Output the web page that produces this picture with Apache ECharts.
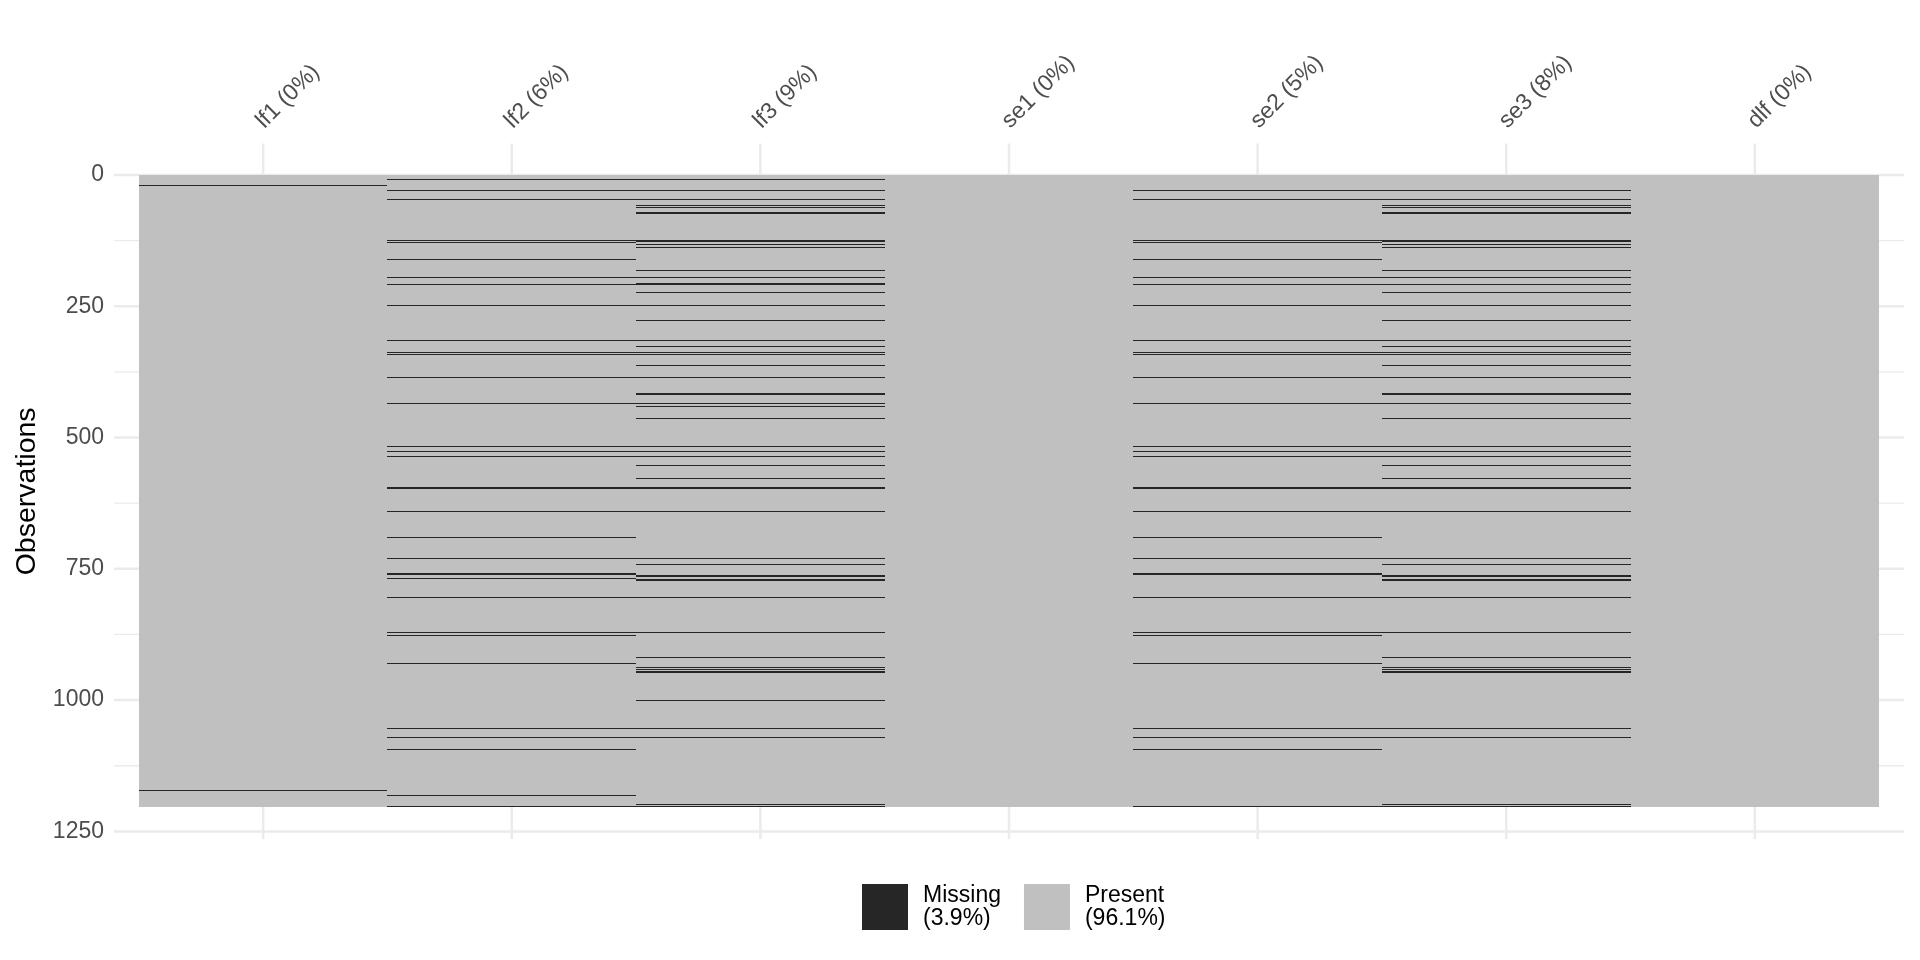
<!DOCTYPE html>
<html>
<head>
<meta charset="utf-8">
<script src="https://cdn.jsdelivr.net/npm/echarts@6/dist/echarts.min.js"></script>
<style>
html,body{margin:0;padding:0;background:#fff;}
#chart{width:1920px;height:960px;}
</style>
</head>
<body>
<div id="chart"></div>
<script>
// ---- data ----
const categories = ['lf1', 'lf2', 'lf3', 'se1', 'se2', 'se3', 'dlf'];
const columnLabels = ['lf1 (0%)', 'lf2 (6%)', 'lf3 (9%)', 'se1 (0%)', 'se2 (5%)', 'se3 (8%)', 'dlf (0%)'];
const nObservations = 1204;
const yTicks = [0, 250, 500, 750, 1000, 1250];
const yMinorTicks = [125, 375, 625, 875, 1125];
const legendLabels = { Missing: 'Missing\n(3.9%)', Present: 'Present\n(96.1%)' };

// missing runs per column: [first row, number of consecutive rows]
const lf1Missing = [[20,2],[1171,2]];
const lf2Missing = [[8,2],[30,2],[47,2],[124,2],[129,2],[160,2],[194,2],[209,2],[248,2],[314,2],[337,2],[342,2],[386,2],
  [434,2],[516,2],[526,2],[535,2],[594,4],[640,2],[689,2],[729,2],[759,4],[768,2],[804,2],
  [870,2],[876,2],[929,2],[1053,2],[1070,2],[1093,2],[1181,2],[1202,2]];
const lf3Missing = [[8,2],[30,2],[47,2],[57,2],[62,2],[72,2],[125,4],[132,2],[137,2],[181,2],[194,2],[207,4],[223,2],[248,2],
  [276,2],[314,2],[326,2],[337,2],[342,2],[362,2],[386,2],
  [415,4],[434,2],[440,2],[463,2],[516,2],[526,2],[535,2],[552,2],[577,2],[594,4],[640,2],[729,2],[741,2],[763,3],[770,3],[804,2],
  [870,2],[918,2],[937,2],[941,2],[946,2],[1000,2],[1053,2],[1070,2],[1198,2],[1202,2]];
const se1Missing = [];
const se2Missing = [[30,2],[47,2],[124,2],[129,2],[160,2],[194,2],[209,2],[248,2],[314,2],[337,2],[342,2],[386,2],
  [434,2],[516,2],[526,2],[535,2],[594,4],[640,2],[689,2],[729,2],[759,4],[804,2],
  [870,2],[876,2],[929,2],[1053,2],[1070,2],[1093,2],[1202,2]];
const se3Missing = [[30,2],[47,2],[57,2],[62,2],[72,2],[125,4],[132,2],[137,2],[181,2],[194,2],[209,2],[223,2],[248,2],
  [276,2],[314,2],[326,2],[337,2],[342,2],[362,2],[386,2],
  [415,4],[434,2],[463,2],[516,2],[526,2],[535,2],[552,2],[577,2],[594,4],[640,2],[729,2],[741,2],[763,3],[770,3],[804,2],
  [870,2],[918,2],[937,2],[941,2],[946,2],[1053,2],[1070,2],[1198,2],[1202,2]];
const dlfMissing = [];

const missingByColumn = [lf1Missing, lf2Missing, lf3Missing, se1Missing, se2Missing, se3Missing, dlfMissing];

// ---- build series data ----
const presentData = categories.map((c, i) => [i + 1, nObservations]);
const missingData = [];
missingByColumn.forEach((runs, i) => runs.forEach(r => missingData.push([i + 1, r[0], r[1]])));
const hGridMajor = yTicks.map(v => [1, v]);
const hGridMinor = yMinorTicks.map(v => [1, v]);
const vGrid = categories.map((c, i) => [i + 1, 0]);

const COL_MISSING = '#262626';
const COL_PRESENT = '#C0C0C0';
const COL_GRID = '#EBEBEB';
const FONT = '"Liberation Sans", Arial, Helvetica, sans-serif';

// y extent with ggplot-like 5% expansion around rows 0.5 .. n+0.5
const yPad = 0.05 * nObservations;
const yMin = 0.5 - yPad;
const yMax = nObservations + 0.5 + yPad;

function snapRect(p0, p1) {
  const l = Math.round(Math.min(p0[0], p1[0]));
  const r = Math.round(Math.max(p0[0], p1[0]));
  const t = Math.round(Math.min(p0[1], p1[1]));
  let b = Math.round(Math.max(p0[1], p1[1]));
  if (b <= t) b = t + 1;
  return { x: l, y: t, width: r - l, height: b - t };
}

function hLine(width) {
  return function (params, api) {
    const cs = params.coordSys;
    const y = api.coord([1, api.value(1)])[1];
    return { type: 'line', silent: true,
      shape: { x1: cs.x, y1: y, x2: cs.x + cs.width, y2: y },
      style: { stroke: COL_GRID, lineWidth: width } };
  };
}

const chart = echarts.init(document.getElementById('chart'), null, { renderer: 'canvas' });
chart.setOption({
  animation: false,
  backgroundColor: '#ffffff',
  textStyle: { fontFamily: FONT },
  grid: { left: 114, right: 16, top: 143.6, bottom: 120.9, containLabel: false, outerBoundsMode: 'none' },
  xAxis: {
    type: 'value', position: 'top', min: 0.4, max: 7.6,
    axisLine: { show: false }, axisTick: { show: false }, splitLine: { show: false },
    axisLabel: {
      customValues: categories.map((c, i) => i + 1),
      formatter: v => columnLabels[Math.round(v) - 1],
      rotate: 45, align: 'left', verticalAlign: 'bottom', margin: 6, padding: [0, 0, 0, 7],
      fontSize: 23, color: '#4D4D4D', fontFamily: FONT
    }
  },
  yAxis: {
    type: 'value', inverse: true, min: yMin, max: yMax,
    axisLine: { show: false }, axisTick: { show: false }, splitLine: { show: false },
    axisLabel: { customValues: yTicks, formatter: v => String(v), fontSize: 23, color: '#4D4D4D', margin: 10, fontFamily: FONT },
    name: 'Observations', nameLocation: 'middle', nameGap: 67,
    nameTextStyle: { fontSize: 28.5, color: '#000000', fontFamily: FONT }
  },
  legend: {
    data: ['Missing', 'Present'], left: 862, top: 884, padding: 0,
    icon: 'rect', itemWidth: 46, itemHeight: 46, itemGap: 23,
    formatter: name => legendLabels[name],
    textStyle: { fontSize: 23, lineHeight: 22.5, color: '#000000', padding: [0, 0, 0, 10], fontFamily: FONT }
  },
  series: [
    { type: 'custom', name: 'gridMinor', silent: true, z: 1, data: hGridMinor, renderItem: hLine(1.3) },
    { type: 'custom', name: 'gridMajor', silent: true, z: 1, data: hGridMajor, renderItem: hLine(2.5) },
    { type: 'custom', name: 'gridV', silent: true, z: 1, data: vGrid,
      renderItem: function (params, api) {
        const cs = params.coordSys;
        const x = api.coord([api.value(0), 0])[0];
        return { type: 'line', silent: true,
          shape: { x1: x, y1: cs.y, x2: x, y2: cs.y + cs.height },
          style: { stroke: COL_GRID, lineWidth: 2.5 } };
      } },
    { type: 'custom', name: 'Present', z: 2, itemStyle: { color: COL_PRESENT }, data: presentData,
      renderItem: function (params, api) {
        const c = api.value(0), n = api.value(1);
        const r = snapRect(api.coord([c - 0.5, 0.5]), api.coord([c + 0.5, n + 0.5]));
        return { type: 'rect', shape: r, style: { fill: COL_PRESENT } };
      } },
    { type: 'custom', name: 'Missing', z: 3, itemStyle: { color: COL_MISSING }, data: missingData,
      renderItem: function (params, api) {
        const c = api.value(0), s = api.value(1), len = api.value(2);
        const r = snapRect(api.coord([c - 0.5, s - 0.5]), api.coord([c + 0.5, s + len - 0.5]));
        return { type: 'rect', shape: r, style: { fill: COL_MISSING } };
      } }
  ]
});
</script>
</body>
</html>
